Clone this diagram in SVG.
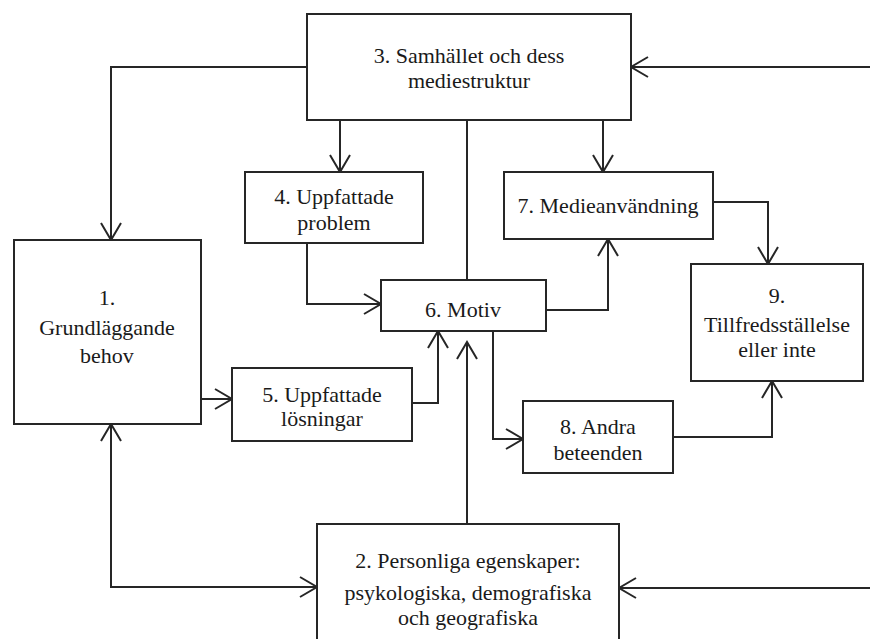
<svg xmlns="http://www.w3.org/2000/svg" width="870" height="639" viewBox="0 0 870 639">
<style>
.box{fill:#fff;stroke:#262626;stroke-width:2}
.t{font-family:"Liberation Serif","Times New Roman",serif;font-size:22px;fill:#1a1a1a;text-anchor:middle}
.c{fill:none;stroke:#262626;stroke-width:2}
</style>
<defs>
<marker id="ah" markerUnits="userSpaceOnUse" markerWidth="24" markerHeight="24" viewBox="-20 -12 22 24" refX="0" refY="0" orient="auto-start-reverse">
<path d="M-17,-10 L0,0 L-17,10" fill="none" stroke="#262626" stroke-width="2"/>
</marker>
</defs>
<rect width="870" height="639" fill="#fff"/>
<g id="connectors">
<path class="c" d="M307,67 H111 V240" marker-end="url(#ah)"/>
<path class="c" d="M340,120 V172" marker-end="url(#ah)"/>
<path class="c" d="M603,120 V172" marker-end="url(#ah)"/>
<path class="c" d="M467,120 V280"/>
<path class="c" d="M307,243 V304 H381" marker-end="url(#ah)"/>
<path class="c" d="M201,399 H232" marker-end="url(#ah)"/>
<path class="c" d="M412,403 H438 V331" marker-end="url(#ah)"/>
<path class="c" d="M467,524 V342" marker-end="url(#ah)"/>
<path class="c" d="M546,310 H608 V239" marker-end="url(#ah)"/>
<path class="c" d="M713,202 H768 V264" marker-end="url(#ah)"/>
<path class="c" d="M493,331 V439 H523" marker-end="url(#ah)"/>
<path class="c" d="M673,437 H772 V381" marker-end="url(#ah)"/>
<path class="c" d="M111,424 V587 H317" marker-start="url(#ah)" marker-end="url(#ah)"/>
<path class="c" d="M870,67 H631" marker-end="url(#ah)"/>
<path class="c" d="M870,588 H619" marker-end="url(#ah)"/>
</g>
<g id="n3">
<rect class="box" x="307" y="14" width="324" height="106"/>
<text class="t" x="469" y="63">3. Samhället och dess</text>
<text class="t" x="469" y="88">mediestruktur</text>
</g>
<g id="n1">
<rect class="box" x="14" y="240" width="187" height="184"/>
<text class="t" x="107" y="305">1.</text>
<text class="t" x="107" y="335">Grundläggande</text>
<text class="t" x="107" y="363">behov</text>
</g>
<g id="n4">
<rect class="box" x="245" y="172" width="178" height="71"/>
<text class="t" x="334" y="204">4. Uppfattade</text>
<text class="t" x="334" y="230">problem</text>
</g>
<g id="n5">
<rect class="box" x="232" y="368" width="180" height="73"/>
<text class="t" x="322" y="402">5. Uppfattade</text>
<text class="t" x="322" y="426">lösningar</text>
</g>
<g id="n6">
<rect class="box" x="381" y="280" width="165" height="51"/>
<text class="t" x="463" y="317">6. Motiv</text>
</g>
<g id="n7">
<rect class="box" x="504" y="172" width="209" height="67"/>
<text class="t" x="608" y="213">7. Medieanvändning</text>
</g>
<g id="n8">
<rect class="box" x="523" y="401" width="150" height="72"/>
<text class="t" x="598" y="434">8. Andra</text>
<text class="t" x="598" y="460">beteenden</text>
</g>
<g id="n9">
<rect class="box" x="691" y="264" width="172" height="117"/>
<text class="t" x="777" y="303">9.</text>
<text class="t" x="777" y="332">Tillfredsställelse</text>
<text class="t" x="777" y="357">eller inte</text>
</g>
<g id="n2">
<rect class="box" x="317" y="524" width="302" height="130"/>
<text class="t" x="468" y="568">2. Personliga egenskaper:</text>
<text class="t" x="468" y="600">psykologiska, demografiska</text>
<text class="t" x="468" y="625">och geografiska</text>
</g>
</svg>
